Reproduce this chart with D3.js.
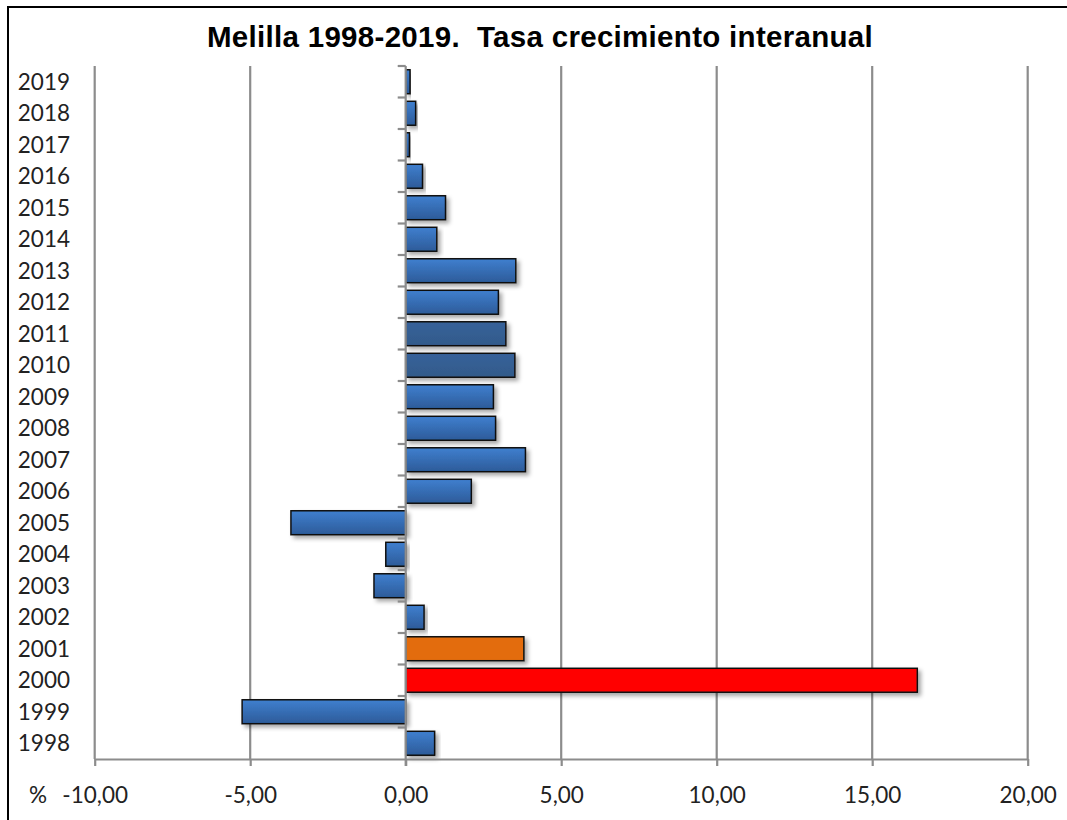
<!DOCTYPE html>
<html><head><meta charset="utf-8">
<script src="https://cdn.jsdelivr.net/npm/d3@7/dist/d3.min.js"></script>
<style>
html,body{margin:0;padding:0;background:#fff;}
svg{display:block;}
</style></head>
<body>
<svg id="chart" width="1067" height="820"></svg>
<script>
// ---- Data ----
const years = [2019,2018,2017,2016,2015,2014,2013,2012,2011,2010,2009,2008,2007,2006,2005,2004,2003,2002,2001,2000,1999,1998];
const rates = [0.14,0.32,0.12,0.54,1.28,1.0,3.54,2.98,3.22,3.51,2.82,2.89,3.85,2.11,-3.69,-0.64,-1.02,0.59,3.80,16.45,-5.26,0.93];
const xTicks = [-10,-5,0,5,10,15,20];
const xTickLabels = ["-10,00","-5,00","0,00","5,00","10,00","15,00","20,00"];
const title = "Melilla 1998-2019.  Tasa crecimiento interanual";

// ---- Styles ----
const specialFill = {2000:"#ff0000", 2001:"#e36c0a", 2010:"url(#gDark)", 2011:"url(#gDark)"};

const svg = d3.select("#chart");
const defs = svg.append("defs");
const gB = defs.append("linearGradient").attr("id","gBlue").attr("x1",0).attr("y1",0).attr("x2",0).attr("y2",1);
gB.append("stop").attr("offset","0%").attr("stop-color","#3f7fcf");
gB.append("stop").attr("offset","100%").attr("stop-color","#2d5b99");
const gD = defs.append("linearGradient").attr("id","gDark").attr("x1",0).attr("y1",0).attr("x2",0).attr("y2",1);
gD.append("stop").attr("offset","0%").attr("stop-color","#37629a");
gD.append("stop").attr("offset","100%").attr("stop-color","#325a8a");
const f = defs.append("filter").attr("id","shadow").attr("x","-10%").attr("y","-30%").attr("width","130%").attr("height","180%");
f.append("feDropShadow").attr("dx",3).attr("dy",3).attr("stdDeviation",2).attr("flood-color","#000").attr("flood-opacity",0.35);

// frame
svg.append("rect").attr("x",8).attr("y",7).attr("width",1100).attr("height",900)
  .attr("fill","none").attr("stroke","#000").attr("stroke-width",2);

const pTop = 66, pBottom = 759, pLeft = 94.7, pRight = 1027.7;
const x = d3.scaleLinear().domain([-10,20]).range([pLeft,pRight]);
const y = d3.scaleBand().domain(years).range([pTop,pBottom]).paddingInner(0.24).paddingOuter(0.12);

// title
svg.append("text").attr("x",540).attr("y",47).attr("text-anchor","middle")
  .attr("font-family","Liberation Sans, Arial, sans-serif").attr("font-weight","bold")
  .attr("font-size",29.5).attr("letter-spacing",0.3).attr("fill","#000").style("white-space","pre").text(title);

// gridlines
svg.append("g").selectAll("line").data(xTicks.filter(d=>d!==0)).join("line")
  .attr("x1",d=>x(d)).attr("x2",d=>x(d)).attr("y1",pTop).attr("y2",pBottom)
  .attr("stroke","#8c8c8c").attr("stroke-width",2.2);

// bars
svg.append("g").selectAll("rect").data(years).join("rect")
  .attr("x",(d,i)=>Math.min(x(0),x(rates[i])))
  .attr("width",(d,i)=>Math.abs(x(rates[i])-x(0)))
  .attr("y",d=>y(d)).attr("height",y.bandwidth())
  .attr("fill",d=>specialFill[d]||"url(#gBlue)")
  .attr("stroke","#111").attr("stroke-width",1.5)
  .attr("filter","url(#shadow)");

// bottom axis
const xAxis = d3.axisBottom(x).tickValues(xTicks).tickFormat((d,i)=>xTickLabels[i]).tickSizeInner(7).tickSizeOuter(0);
const gx = svg.append("g").attr("transform",`translate(0,${pBottom})`).call(xAxis);
gx.select(".domain").attr("stroke","#8c8c8c").attr("stroke-width",2.2);
gx.selectAll(".tick line").attr("stroke","#8c8c8c").attr("stroke-width",2.2);
gx.selectAll(".tick text").attr("font-family","Lato, sans-serif").attr("font-size",22.5).attr("fill","#222")
  .attr("y",44).attr("dy",0);

// zero axis line with band-boundary ticks
const boundaries = years.map(d=>y(d) - y.step()*y.paddingInner()/2);
svg.append("line").attr("x1",x(0)).attr("x2",x(0)).attr("y1",pTop).attr("y2",pBottom+7)
  .attr("stroke","#8c8c8c").attr("stroke-width",2.2);
svg.append("g").selectAll("line").data(boundaries).join("line")
  .attr("x1",x(0)-8).attr("x2",x(0)).attr("y1",d=>d).attr("y2",d=>d)
  .attr("stroke","#8c8c8c").attr("stroke-width",2.2);

// year labels
svg.append("g").selectAll("text").data(years).join("text")
  .attr("x",70).attr("y",d=>y(d)+y.bandwidth()/2).attr("dy","0.36em")
  .attr("text-anchor","end").attr("font-family","Lato, sans-serif").attr("font-size",22.5).attr("fill","#222")
  .text(d=>d);

// percent sign
svg.append("text").attr("x",29).attr("y",803)
  .attr("font-family","Lato, sans-serif").attr("font-size",22.5).attr("fill","#222").text("%");
</script>
</body></html>
